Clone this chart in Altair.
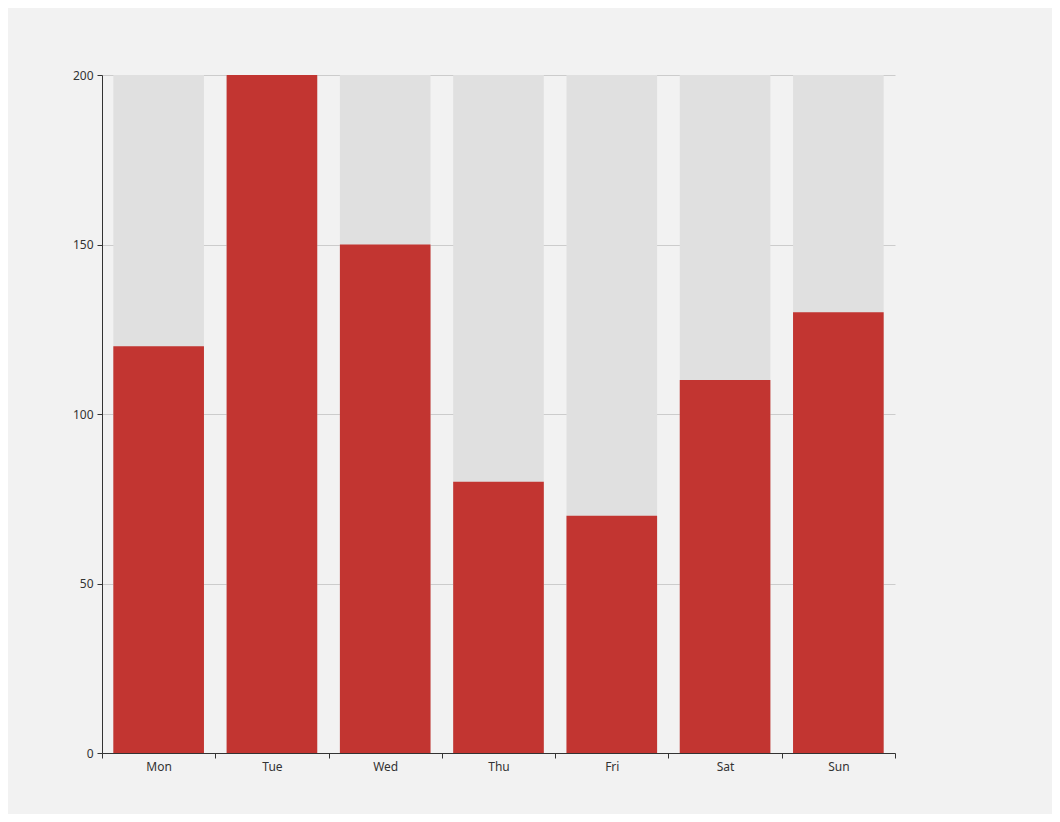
import altair as alt
import pandas as pd

days = ["Mon", "Tue", "Wed", "Thu", "Fri", "Sat", "Sun"]
values = [120, 200, 150, 80, 70, 110, 130]
background_values = [200, 200, 200, 200, 200, 200, 200]

df = pd.DataFrame({"day": days, "value": values, "bg": background_values})

x_enc = alt.X(
    "day:N",
    sort=days,
    scale=alt.Scale(paddingInner=0, paddingOuter=0),
    axis=alt.Axis(
        title=None, labelAngle=0, tickBand="extent", grid=False,
        domainColor="#333333", tickColor="#333333", labelColor="#333333",
        labelFontSize=12, labelPadding=3, tickSize=5,
    ),
)
y_scale = alt.Scale(domain=[0, 200], nice=False)

bg = alt.Chart(df).mark_bar(color="#e0e0e0", width=alt.RelativeBandSize(0.8)).encode(
    x=x_enc,
    y=alt.Y("bg:Q", scale=y_scale, axis=alt.Axis(
        title=None, values=[0, 50, 100, 150, 200], grid=True, gridColor="#cccccc",
        domainColor="#333333", tickColor="#333333", labelColor="#333333",
        labelFontSize=12, tickSize=5, labelPadding=4,
    )),
)

fg = alt.Chart(df).mark_bar(color="#c23531", width=alt.RelativeBandSize(0.8)).encode(
    x=x_enc,
    y=alt.Y("value:Q", scale=y_scale),
)

chart = alt.layer(bg, fg).properties(
    width=793,
    height=678,
    background="#f2f2f2",
    padding={"left": 94, "top": 67, "right": 157, "bottom": 61},
    autosize=alt.AutoSizeParams(type="none"),
).configure_view(stroke=None).configure_axis(labelFont="Noto Sans", gridWidth=1)

chart.save("out.html", embed_options={"renderer": "svg", "actions": False})
